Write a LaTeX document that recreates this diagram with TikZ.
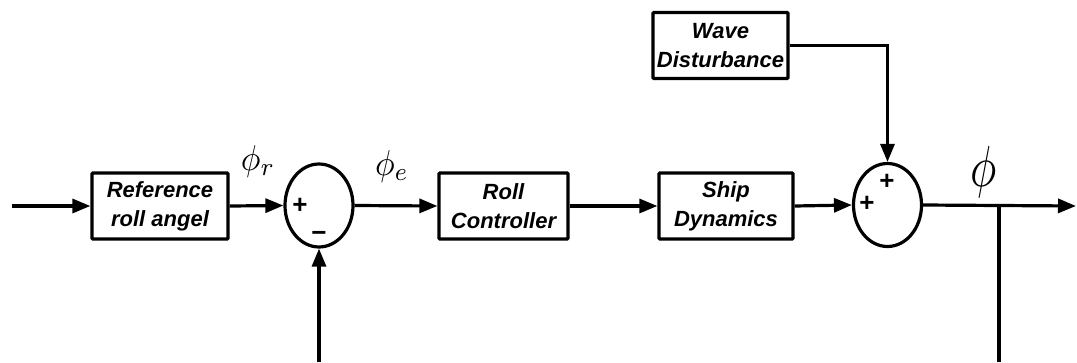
\documentclass[tikz,border=0pt]{standalone}
\usepackage{fontspec}
\setsansfont{Liberation Sans}
\usetikzlibrary{arrows.meta,shapes.geometric}
\tikzset{
  wire/.style={line width=3.2pt},
  flow/.style={wire,-{Triangle[length=18pt,width=14pt]}},
  block/.style={draw,line width=3.2pt,rounded corners=1pt,inner sep=0pt,
    minimum height=66pt,align=center,
    font=\fontsize{22}{29}\selectfont\sffamily\bfseries\itshape},
  summer/.style={draw,ellipse,line width=3.2pt,inner sep=0pt,
    minimum width=68pt,minimum height=83pt},
  sign/.style={inner sep=0pt,font=\fontsize{26}{26}\selectfont\sffamily\bfseries},
  sig/.style={inner sep=0pt,xscale=3.3,yscale=3.6},
}
\begin{document}
\begin{tikzpicture}[x=1pt,y=-1pt]
\useasboundingbox (0,0) rectangle (1077,362);

% blocks of the loop
\node[block,minimum width=136pt] (ref)  at (160,206)   {Reference\\roll angel};
\node[summer]                    (sum1) at (319,205.5) {};
\node[block,minimum width=129pt] (ctrl) at (503.5,206) {Roll\\Controller};
\node[block,minimum width=134pt] (ship) at (726,206)   {Ship\\Dynamics};
\node[block,minimum width=135pt] (wave) at (720.5,45.5){Wave\\Disturbance};
\node[summer]                    (sum2) at (887.5,205) {};

% signs at the summing junctions
\node[sign] (p1) at (300,206) {+};
\node[sign] (m1) at (319,236) {−};
\node[sign] (p2) at (867,204) {+};
\node[sign] (p3) at (887,182) {+};

% free ends of the signal lines
\coordinate (in)  at (12,206);
\coordinate (out) at (1076,206);
\coordinate (br)  at (999,206);
\coordinate (fbR) at (999,362);
\coordinate (fbL) at (319,362);

% forward path
\draw[flow] (in) -- (ref.west);
\draw[flow] (ref.east) -- (sum1.west);
\draw[flow] (sum1.east) -- (ctrl.west);
\draw[flow] (ctrl.east) -- (ship.west);
\draw[flow] (ship.east) -- (sum2.west);
\draw[flow] (sum2.east) -- (out);
\draw[flow] (wave.east) -| (sum2.north);

% feedback path
\draw[wire] (br) -- (fbR);
\draw[flow] (fbL) -- (sum1.south);

% signal names
\node[sig] (phir) at (258,161) {$\phi_r$};
\node[sig] (phie) at (392,166) {$\phi_e$};
\node[inner sep=0pt,xscale=4.4,yscale=5.8] (phi) at (984,172) {$\phi$};
\end{tikzpicture}
\end{document}
